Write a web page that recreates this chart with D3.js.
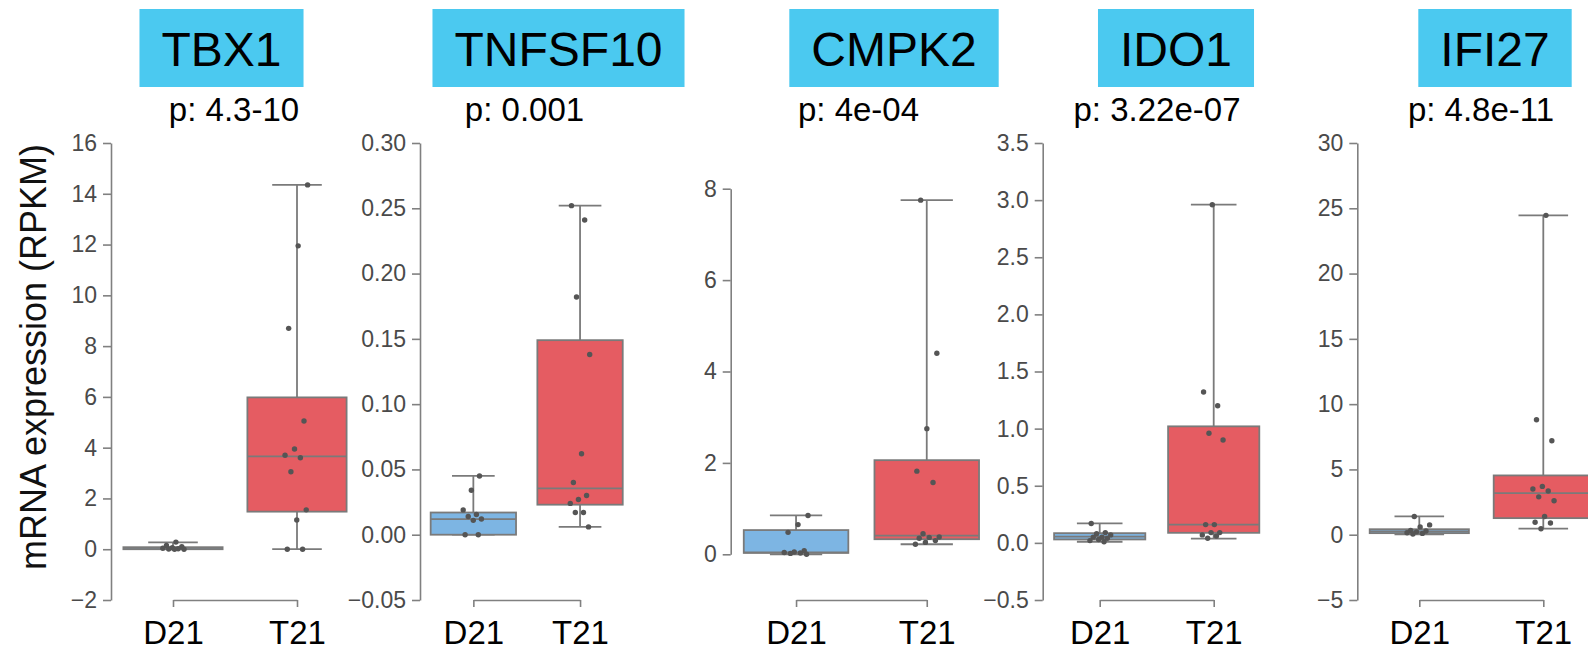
<!DOCTYPE html>
<html>
<head>
<meta charset="utf-8">
<script src="https://cdn.jsdelivr.net/npm/d3@7"></script>
<style>
  body { margin: 0; background: #fff; }
  svg { display: block; font-family: "Liberation Sans", Arial, sans-serif; }
</style>
</head>
<body>
<div id="chart"></div>
<script>
// genes, one panel each
var genes = ["TBX1", "TNFSF10", "CMPK2", "IDO1", "IFI27"];
var pLabels = ["p: 4.3-10", "p: 0.001", "p: 4e-04", "p: 3.22e-07", "p: 4.8e-11"];
var groups = ["D21", "T21"];

var yDomains = [[-2, 16], [-0.05, 0.30], [-1, 9], [-0.5, 3.5], [-5, 30]];
var yTickValues = [
  [-2, 0, 2, 4, 6, 8, 10, 12, 14, 16],
  [-0.05, 0, 0.05, 0.10, 0.15, 0.20, 0.25, 0.30],
  [0, 2, 4, 6, 8],
  [-0.5, 0, 0.5, 1.0, 1.5, 2.0, 2.5, 3.0, 3.5],
  [-5, 0, 5, 10, 15, 20, 25, 30]
];
var yTickFormats = ["d", ".2f", "d", ".1f", "d"];

// box stats: [whisker low, q1, median, q3, whisker high]
var d21Stats = [
  [0, 0.0, 0.05, 0.08, 0.27],
  [0, 0.0, 0.012, 0.017, 0.045],
  [0, 0.03, 0.04, 0.53, 0.85],
  [0.01, 0.03, 0.055, 0.085, 0.17],
  [0.03, 0.12, 0.25, 0.42, 1.4]
];
var t21Stats = [
  [0, 1.48, 3.66, 5.98, 14.35],
  [0.006, 0.023, 0.0355, 0.149, 0.252],
  [0.22, 0.33, 0.41, 2.06, 7.75],
  [0.038, 0.088, 0.16, 1.02, 2.96],
  [0.46, 1.27, 3.18, 4.54, 24.46]
];

// individual samples
var d21Points = [
  [0.28, 0.15, 0.1, 0.06, 0.04, 0.02, 0.01, 0.0, 0.0],
  [0.045, 0.034, 0.019, 0.0155, 0.014, 0.012, 0.011, 0.0, 0.0],
  [0.85, 0.65, 0.48, 0.08, 0.05, 0.04, 0.03, 0.02, 0.0],
  [0.17, 0.09, 0.08, 0.07, 0.05, 0.05, 0.04, 0.03, 0.02, 0.01],
  [1.4, 0.75, 0.6, 0.32, 0.28, 0.22, 0.15, 0.1, 0.05]
];
var t21Points = [
  [14.35, 11.95, 8.7, 5.05, 3.95, 3.7, 3.6, 3.05, 1.55, 1.15, 0.0, 0.0],
  [0.252, 0.241, 0.182, 0.138, 0.062, 0.040, 0.030, 0.027, 0.024, 0.017, 0.017, 0.006],
  [7.75, 4.4, 2.75, 1.82, 1.57, 0.45, 0.38, 0.37, 0.35, 0.3, 0.26, 0.22],
  [2.96, 1.32, 1.2, 0.96, 0.9, 0.16, 0.16, 0.09, 0.09, 0.07, 0.06, 0.04],
  [24.46, 8.8, 7.2, 3.7, 3.5, 3.35, 2.9, 2.6, 1.4, 0.95, 0.9, 0.46]
];

// layout of the five panels (the original is a hand-made collage)
var panelLeft = [111, 420, 730.7, 1042.7, 1357.3];
var groupStep = [124, 106.7, 130.7, 114, 124];
var titleCenter = [221.5, 558.5, 894, 1176, 1495];
var pCenter = [234, 524.5, 858.5, 1157, 1481];

var width = 1588, height = 650;
var plotTop = 143, plotBottom = 600;

var colors = { D21: "#7db5e3", T21: "#e55c62" };
var titleFill = "#4bc9f0";
var edge = "#7a7a7a";

var svg = d3.select("#chart").append("svg")
  .attr("width", width)
  .attr("height", height);

svg.append("text")
  .attr("transform", "translate(33,357) rotate(-90)")
  .attr("text-anchor", "middle")
  .attr("dominant-baseline", "central")
  .style("font-size", "36px")
  .style("fill", "#111")
  .text("mRNA expression (RPKM)");

genes.forEach(function(gene, i) {
  var g = svg.append("g").attr("class", "panel");

  var y = d3.scaleLinear().domain(yDomains[i]).range([plotBottom, plotTop]);
  var x = d3.scalePoint().domain(groups)
    .range([panelLeft[i], panelLeft[i] + 2 * groupStep[i]])
    .padding(0.5);
  var boxW = groupStep[i] * 0.8;

  // title box
  var tg = g.append("g");
  var tt = tg.append("text")
    .attr("x", titleCenter[i])
    .attr("y", 66)
    .attr("text-anchor", "middle")
    .style("font-size", "48px")
    .style("fill", "#000")
    .text(gene);
  var bb = tt.node().getBBox();
  tg.insert("rect", "text")
    .attr("x", bb.x - 22)
    .attr("y", 9)
    .attr("width", bb.width + 44)
    .attr("height", 78)
    .attr("fill", titleFill);

  g.append("text")
    .attr("x", pCenter[i])
    .attr("y", 121)
    .attr("text-anchor", "middle")
    .style("font-size", "33px")
    .style("fill", "#000")
    .text(pLabels[i]);

  // y axis trimmed to first/last tick
  var ticks = yTickValues[i];
  var t0 = ticks[0], t1 = ticks[ticks.length - 1];
  var yt = y.copy().domain([t0, t1]).range([y(t0), y(t1)]);
  var yAxis = g.append("g")
    .attr("transform", "translate(" + panelLeft[i] + ",0)")
    .call(d3.axisLeft(yt).tickValues(ticks).tickFormat(d3.format(yTickFormats[i]))
      .tickSize(8).tickPadding(6).tickSizeOuter(0));

  // x axis trimmed bracket
  var xt = d3.scalePoint().domain(groups).range([x("D21"), x("T21")]);
  var xAxis = g.append("g")
    .attr("transform", "translate(0," + plotBottom + ")")
    .call(d3.axisBottom(xt).tickSize(7).tickPadding(14).tickSizeOuter(0));

  [yAxis, xAxis].forEach(function(ax) {
    ax.select(".domain").attr("stroke", "#808080").attr("stroke-width", 1.6);
    ax.selectAll(".tick line").attr("stroke", "#808080").attr("stroke-width", 1.6);
    ax.selectAll("text").attr("font-family", null);
  });
  yAxis.selectAll(".tick text").style("font-size", "23px").style("fill", "#4a4a4a");
  xAxis.selectAll(".tick text").style("font-size", "33px").style("fill", "#000");

  // boxes
  var stats = [d21Stats[i], t21Stats[i]];
  stats.forEach(function(s, k) {
    var grp = groups[k];
    var cx = x(grp);
    var bg = g.append("g");
    bg.append("line")
      .attr("x1", cx).attr("x2", cx)
      .attr("y1", y(s[3])).attr("y2", y(s[4]));
    bg.append("line")
      .attr("x1", cx).attr("x2", cx)
      .attr("y1", y(s[1])).attr("y2", y(s[0]));
    bg.append("line")
      .attr("x1", cx - boxW / 4).attr("x2", cx + boxW / 4)
      .attr("y1", y(s[4])).attr("y2", y(s[4]));
    bg.append("line")
      .attr("x1", cx - boxW / 4).attr("x2", cx + boxW / 4)
      .attr("y1", y(s[0])).attr("y2", y(s[0]));
    bg.append("rect")
      .attr("x", cx - boxW / 2)
      .attr("y", y(s[3]))
      .attr("width", boxW)
      .attr("height", Math.max(0.5, y(s[1]) - y(s[3])))
      .attr("fill", colors[grp]);
    bg.append("line")
      .attr("x1", cx - boxW / 2).attr("x2", cx + boxW / 2)
      .attr("y1", y(s[2])).attr("y2", y(s[2]));
    bg.selectAll("line, rect")
      .attr("stroke", edge)
      .attr("stroke-width", 1.8);
  });

  // strip points with deterministic jitter of +-0.1 group step
  var pts = [d21Points[i], t21Points[i]];
  pts.forEach(function(vals, k) {
    var cx = x(groups[k]);
    g.append("g").selectAll("circle")
      .data(vals)
      .join("circle")
      .attr("cx", function(d, j) {
        var u = ((j + 1) * 0.618034 + k * 0.31 + i * 0.17) % 1;
        return cx + (u * 2 - 1) * 0.1 * groupStep[i];
      })
      .attr("cy", function(d) { return y(d); })
      .attr("r", 2.7)
      .attr("fill", "#555");
  });
});
</script>
</body>
</html>
